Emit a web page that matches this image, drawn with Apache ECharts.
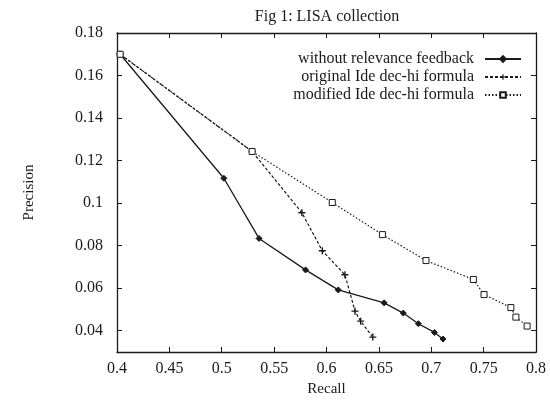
<!DOCTYPE html>
<html>
<head>
<meta charset="utf-8">
<script src="https://cdn.jsdelivr.net/npm/echarts@6/dist/echarts.min.js"></script>
<style>
  html, body { margin: 0; padding: 0; background: #fff; }
  #chart { width: 550px; height: 405px; }
</style>
</head>
<body>
<div id="chart"></div>
<script>
// Recall / precision pairs for each run
const recallNoFeedback    = [0.403, 0.502, 0.5356, 0.580, 0.6112, 0.655, 0.6733, 0.6877, 0.703, 0.7112];
const precisionNoFeedback = [0.170, 0.1117, 0.0834, 0.0686, 0.0592, 0.0531, 0.0483, 0.0433, 0.0392, 0.0361];

const recallOriginal    = [0.403, 0.529, 0.5765, 0.596, 0.6176, 0.6272, 0.6326, 0.6442];
const precisionOriginal = [0.170, 0.1243, 0.0955, 0.0776, 0.0663, 0.0492, 0.0445, 0.0370];

const recallModified    = [0.403, 0.529, 0.6055, 0.6534, 0.695, 0.7402, 0.7504, 0.776, 0.7808, 0.7915];
const precisionModified = [0.170, 0.1243, 0.1003, 0.0852, 0.0730, 0.0641, 0.0570, 0.0509, 0.0464, 0.0422];

const seriesNames = [
  'without relevance feedback',
  'original Ide dec-hi formula',
  'modified Ide dec-hi formula'
];

const FONT = '"Liberation Serif", "DejaVu Serif", serif';
const INK = '#1a1a1a';

function pairs(xs, ys) {
  return xs.map((x, i) => [x, ys[i]]);
}

const plusSymbol = 'path://M4,0H6V4H10V6H6V10H4V6H0V4H4Z';

const chart = echarts.init(document.getElementById('chart'), null, { renderer: 'canvas' });

const tickStyle = { show: true, inside: true, length: 5, lineStyle: { color: INK, width: 1 } };
const lineStyleAxis = { show: true, lineStyle: { color: INK, width: 1.3 } };

chart.setOption({
  animation: false,
  backgroundColor: '#fff',
  title: {
    text: 'Fig 1: LISA collection',
    left: 322,
    textAlign: 'center',
    top: 4,
    textStyle: { fontFamily: FONT, fontSize: 16, fontWeight: 'normal', color: INK }
  },
  grid: { left: 117, right: 14, top: 33, bottom: 53 },
  legend: {
    orient: 'vertical',
    right: 23,
    top: 46,
    align: 'right',
    itemWidth: 36,
    itemHeight: 7,
    itemGap: 2,
    textStyle: { fontFamily: FONT, fontSize: 16, color: INK, padding: [0, 6, 0, 0] },
    data: seriesNames
  },
  xAxis: [
    {
      type: 'value', min: 0.4, max: 0.8, interval: 0.05,
      name: 'Recall', nameLocation: 'middle', nameGap: 28,
      nameTextStyle: { fontFamily: FONT, fontSize: 15, color: INK },
      axisLine: lineStyleAxis, axisTick: tickStyle, splitLine: { show: false },
      axisLabel: { fontFamily: FONT, fontSize: 16, color: INK, margin: 9 }
    },
    {
      type: 'value', position: 'top', min: 0.4, max: 0.8, interval: 0.05,
      axisLine: lineStyleAxis, axisTick: tickStyle, splitLine: { show: false },
      axisLabel: { show: false }
    }
  ],
  yAxis: [
    {
      type: 'value', min: 0.03, max: 0.18, splitNumber: 7,
      name: 'Precision', nameLocation: 'middle', nameGap: 80, nameRotate: 90,
      nameTextStyle: { fontFamily: FONT, fontSize: 15, color: INK },
      axisLine: lineStyleAxis, axisTick: tickStyle, splitLine: { show: false },
      axisLabel: {
        fontFamily: FONT, fontSize: 16, color: INK, margin: 14,
        showMinLabel: false,
        formatter: v => (Math.abs(Math.round(v * 50) - v * 50) < 1e-6 ? String(+v.toFixed(2)) : '')
      }
    },
    {
      type: 'value', position: 'right', min: 0.03, max: 0.18, splitNumber: 7,
      axisLine: lineStyleAxis, axisTick: tickStyle, splitLine: { show: false },
      axisLabel: { show: false }
    }
  ],
  series: [
    {
      name: seriesNames[0], type: 'line',
      data: pairs(recallNoFeedback, precisionNoFeedback),
      symbol: 'diamond', symbolSize: 6,
      lineStyle: { color: INK, width: 1.3, type: 'solid' },
      itemStyle: { color: INK, borderColor: INK, borderWidth: 1 }
    },
    {
      name: seriesNames[1], type: 'line',
      data: pairs(recallOriginal, precisionOriginal),
      symbol: plusSymbol, symbolSize: 7,
      lineStyle: { color: INK, width: 1.2, type: [3, 2] },
      itemStyle: { color: INK }
    },
    {
      name: seriesNames[2], type: 'line',
      data: pairs(recallModified, precisionModified),
      symbol: 'rect', symbolSize: 6,
      lineStyle: { color: INK, width: 1.2, type: [1.5, 2] },
      itemStyle: { color: '#fff', borderColor: INK, borderWidth: 1 }
    }
  ]
});
</script>
</body>
</html>
